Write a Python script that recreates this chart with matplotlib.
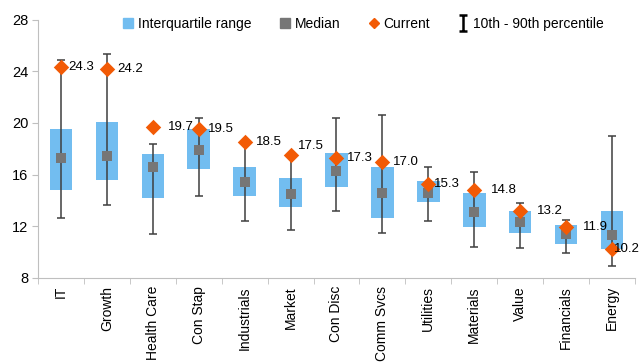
"""Forward P/E ranges by sector: IQR boxes, medians, 10th-90th whiskers and current value."""

import matplotlib
matplotlib.use("Agg")
import matplotlib.pyplot as plt
import numpy as np
from matplotlib.lines import Line2D
from matplotlib.path import Path

plt.rcParams["font.family"] = ["Liberation Sans", "DejaVu Sans"]

CATEGORIES = ["IT", "Growth", "Health Care", "Con Stap", "Industrials", "Market",
              "Con Disc", "Comm Svcs", "Utilities", "Materials", "Value",
              "Financials", "Energy"]
Q25 = [14.8, 15.6, 14.2, 16.4, 14.3, 13.5, 15.0, 12.6, 13.9, 11.9, 11.5, 10.6, 10.2]
Q75 = [19.5, 20.1, 17.6, 19.5, 16.6, 15.7, 17.7, 16.6, 15.5, 14.6, 13.2, 12.1, 13.2]
MEDIAN = [17.3, 17.4, 16.6, 17.9, 15.4, 14.5, 16.3, 14.6, 14.6, 13.1, 12.3, 11.4, 11.3]
P10 = [12.6, 13.6, 11.4, 14.3, 12.4, 11.7, 13.2, 11.5, 12.4, 10.4, 10.3, 9.9, 8.9]
P90 = [24.9, 25.3, 18.4, 20.4, 18.4, 17.4, 20.4, 20.6, 16.6, 16.2, 13.8, 12.5, 19.0]
CURRENT = [24.3, 24.2, 19.7, 19.5, 18.5, 17.5, 17.3, 17.0, 15.3, 14.8, 13.2, 11.9, 10.2]
# label nudges (pixels) for the current-value annotations
LABEL_DX = [7, 10, 15, 9, 11, 7, 10, 11, 6, 17, 17, 17, 2]
LABEL_DY = [0, 0, 0, 0, 0, 9, 0, 0, 0, 0, 0, 0, 0]

BLUE = "#72BDF0"
GREY = "#767676"
ORANGE = "#F25A05"
WHISK = "#3F3F3F"

# I-beam marker for the legend key
IBEAM = Path([(-0.45, 1), (0.45, 1), (0, 1), (0, -1), (-0.45, -1), (0.45, -1)],
             [Path.MOVETO, Path.LINETO, Path.MOVETO, Path.LINETO, Path.MOVETO, Path.LINETO])


def main() -> None:
    fig = plt.figure(figsize=(6.41, 3.64), dpi=100)
    ax = fig.add_axes([0.0593, 0.237, 0.9313, 0.709])
    x = np.arange(len(CATEGORIES))
    q25 = np.array(Q25); q75 = np.array(Q75)
    med = np.array(MEDIAN); cur = np.array(CURRENT)
    lo = np.array(P10); hi = np.array(P90)

    ax.bar(x, q75 - q25, bottom=q25, width=0.49, color=BLUE, zorder=1)
    ax.errorbar(x, med, yerr=[med - lo, hi - med], fmt="none", ecolor=WHISK,
                elinewidth=1.1, capsize=3, capthick=1.1, zorder=2)
    ax.scatter(x, med, marker="s", s=45, color=GREY, zorder=3, linewidths=0)
    ax.scatter(x, cur, marker="D", s=62, color=ORANGE, zorder=4, linewidths=0)

    for xi, c, dx, dy in zip(x, cur, LABEL_DX, LABEL_DY):
        ax.annotate(f"{c:.1f}", (xi, c), xytext=(dx, dy), textcoords="offset pixels",
                    ha="left", va="center", fontsize=9.5, zorder=5)

    ax.set_xlim(-0.5, len(CATEGORIES) - 0.5)
    ax.set_ylim(8, 28)
    ax.set_yticks([8, 12, 16, 20, 24, 28])
    ax.set_xticks(x)
    ax.set_xticklabels(CATEGORIES, rotation=90, fontsize=10)
    ax.set_xticks(np.arange(-0.5, len(CATEGORIES)), minor=True)
    ax.tick_params(axis="x", which="major", length=0, pad=6)
    ax.tick_params(axis="x", which="minor", length=4, color="#BFBFBF")
    ax.tick_params(axis="y", length=4, color="#BFBFBF", labelsize=10.5, pad=3)
    for s in ("top", "right"):
        ax.spines[s].set_visible(False)
    for s in ("left", "bottom"):
        ax.spines[s].set_color("#BFBFBF")

    handles = [
        Line2D([], [], marker="s", ls="none", color=BLUE, markersize=7),
        Line2D([], [], marker="s", ls="none", color=GREY, markersize=7),
        Line2D([], [], marker="D", ls="none", color=ORANGE, markersize=5.5),
        Line2D([], [], marker=IBEAM, ls="none", color="black", markersize=12,
               markeredgewidth=1.8, markerfacecolor="none"),
    ]
    labels = ["Interquartile range", "Median", "Current", "10th - 90th percentile"]
    ax.legend(handles, labels, loc="center", bbox_to_anchor=(0.545, 0.983), ncol=4,
              frameon=False, fontsize=10, handlelength=0.8, handletextpad=0.3,
              columnspacing=2.0, borderaxespad=0)

    fig.savefig("out.png", dpi=100)


if __name__ == "__main__":
    main()
